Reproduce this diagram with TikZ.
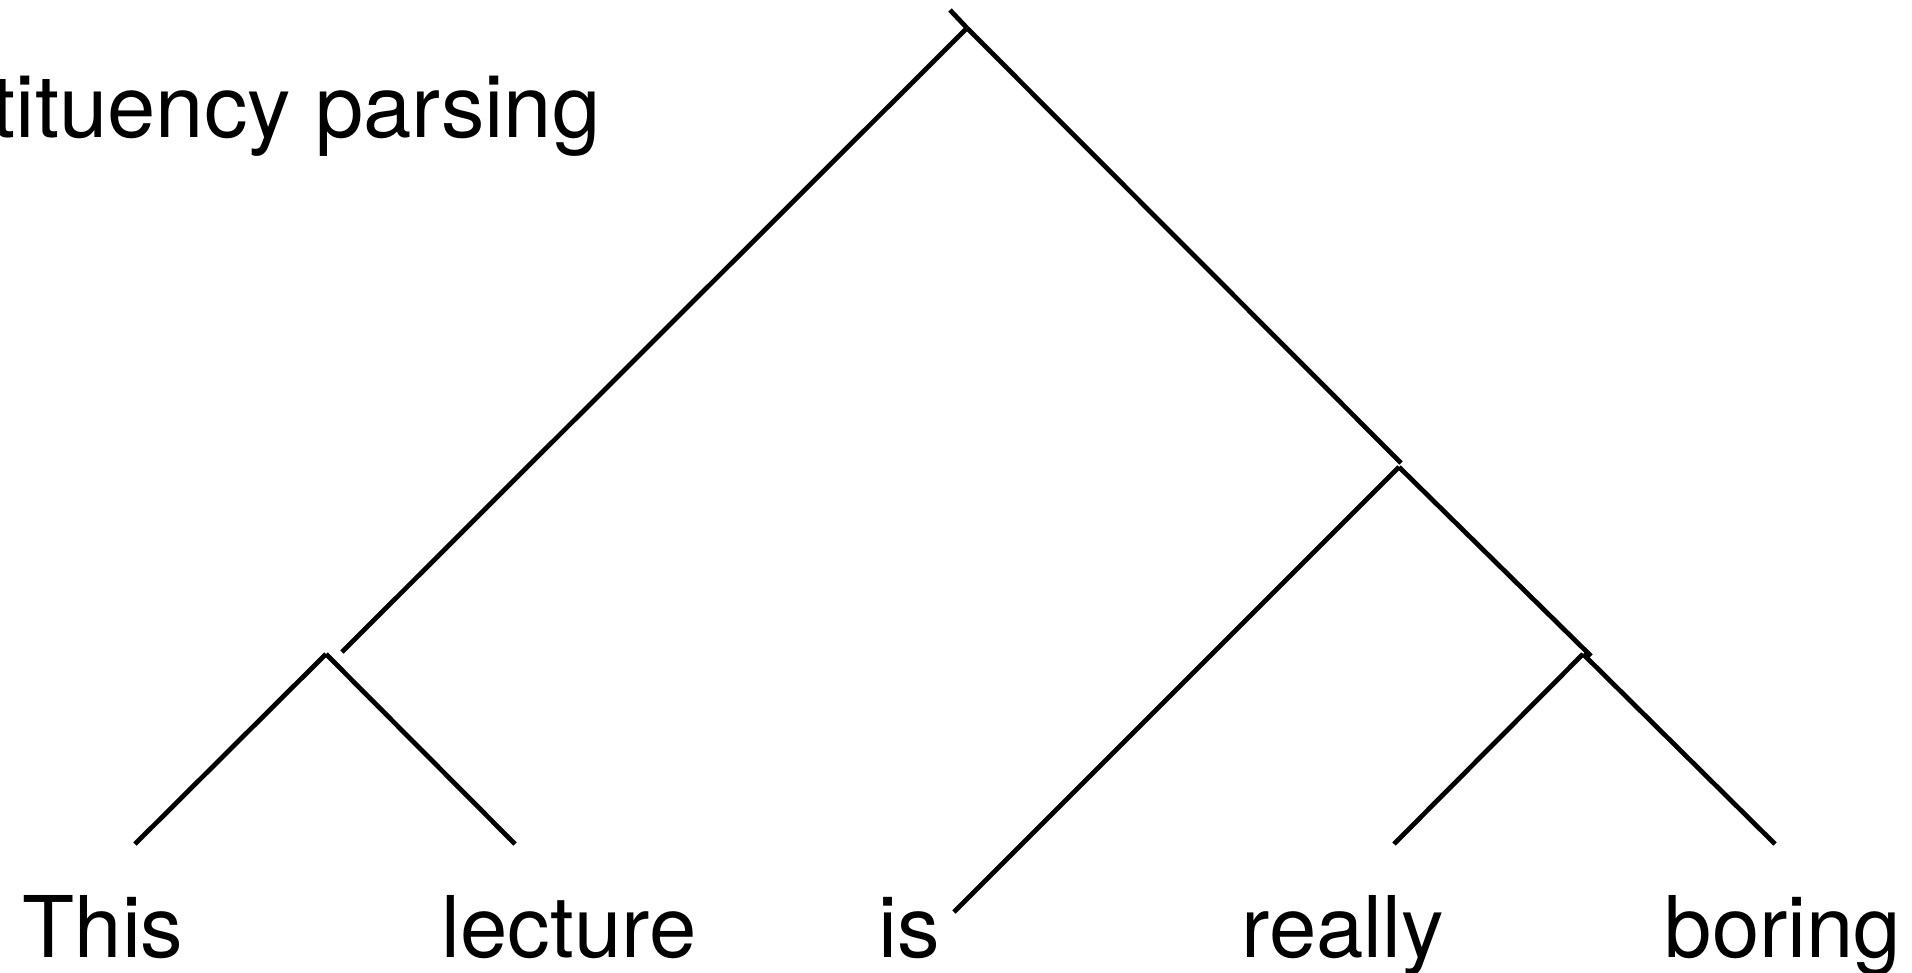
\documentclass[tikz,border=0pt]{standalone}
\usepackage{fontspec}
\setmainfont{TeX Gyre Heros}
\tikzset{
	branch/.style={black, line width=1.35pt},
	word/.style={anchor=base west, inner sep=0pt, font=\fontsize{24.2}{28}\selectfont}
}
\begin{document}
\begin{tikzpicture}[x=0.01cm, y=-0.01cm]
	\clip (0, 0) rectangle (1912, 972);

	% title, cut at the left edge
	\node[word, font=\fontsize{24.7}{28}\selectfont] (title) at (-192, 137) {constituency parsing};

	% junctions
	\coordinate (top) at (950, 10);
	\coordinate (root) at (967, 28);
	\coordinate (tipL) at (342, 652);
	\coordinate (tipRa) at (1401, 463);
	\coordinate (nodeL) at (326, 654);
	\coordinate (nodeRa) at (1399, 467);
	\coordinate (tipRb) at (1591, 656);
	\coordinate (nodeRb) at (1583, 654);

	% leaf ends
	\coordinate (leafThis) at (135, 844);
	\coordinate (leafLecture) at (515, 844);
	\coordinate (leafIs) at (954, 912);
	\coordinate (leafReally) at (1394, 844);
	\coordinate (leafBoring) at (1775, 844);

	\draw[branch] (top) -- (root);
	\draw[branch] (root) -- (tipL);
	\draw[branch] (root) -- (tipRa);

	\draw[branch] (nodeL) -- (leafThis);
	\draw[branch] (nodeL) -- (leafLecture);

	\draw[branch] (nodeRa) -- (leafIs);
	\draw[branch] (nodeRa) -- (tipRb);

	\draw[branch] (nodeRb) -- (leafReally);
	\draw[branch] (nodeRb) -- (leafBoring);

	% words
	\node[word] (wThis) at (22, 957) {This};
	\node[word] (wLecture) at (441, 957) {lecture};
	\node[word] (wIs) at (878, 957) {is};
	\node[word] (wReally) at (1241, 957) {really};
	\node[word] (wBoring) at (1664, 957) {boring};
\end{tikzpicture}
\end{document}
